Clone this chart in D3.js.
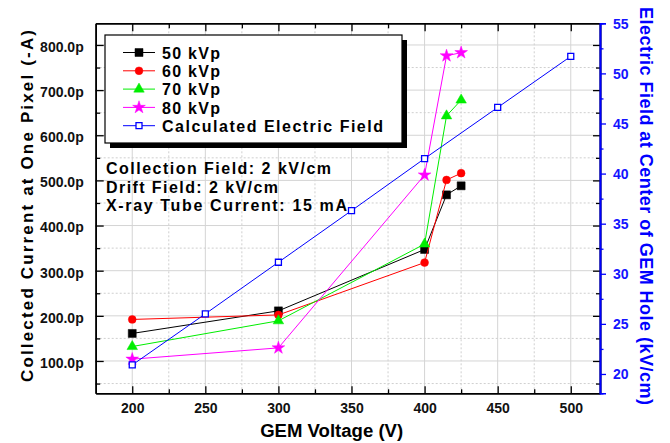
<!DOCTYPE html>
<html>
<head>
<meta charset="utf-8">
<script src="https://cdn.jsdelivr.net/npm/d3@7"></script>
<style>
  body { margin: 0; background: #fff; }
  svg { display: block; font-family: "Liberation Sans", Arial, sans-serif; font-weight: bold; }
</style>
</head>
<body>
<svg id="chart"></svg>
<script>
// Data
const voltages = [200, 300, 400, 415, 425];
const current50 = [161, 211, 347, 468, 488];
const current60 = [192, 202, 318, 501, 516];
const current70 = [132, 189, 359, 643, 678];
const current80 = [104, 129, 512, 776, 783];
const fieldVoltages = [200, 250, 300, 350, 400, 450, 500];
const fieldValues = [20.9, 26.0, 31.15, 36.3, 41.5, 46.6, 51.7];

const seriesNames = ["50 kVp", "60 kVp", "70 kVp", "80 kVp", "Calculated Electric Field"];
const notes = ["Collection Field: 2 kV/cm", "Drift Field: 2 kV/cm", "X-ray Tube Current: 15 mA"];

const xTicks = [200, 250, 300, 350, 400, 450, 500];
const yLeftTicks = [100, 200, 300, 400, 500, 600, 700, 800];
const yRightTicks = [20, 25, 30, 35, 40, 45, 50, 55];

const width = 670, height = 443;
const plotLeft = 95.7, plotRight = 600, plotTop = 23.3, plotBottom = 393.3;

const svg = d3.select("#chart").attr("width", width).attr("height", height);

// Scales
const x = d3.scaleLinear().domain([175, 520]).range([plotLeft, plotRight]);
const y = d3.scaleLinear().domain([28.4, 848]).range([plotBottom, plotTop]);
const yR = d3.scaleLinear().domain([18.07, 55]).range([plotBottom, plotTop]);

const xMinor = d3.range(225, 520, 50);
const yMinor = d3.range(50, 848, 100);
const rMinor = d3.range(22.5, 55, 5);

// Grid
const grid = svg.append("g");
xTicks.forEach(v => grid.append("line").attr("x1", x(v)).attr("x2", x(v)).attr("y1", plotTop).attr("y2", plotBottom)
    .attr("stroke", "#d4d4d4").attr("stroke-width", 1));
xMinor.forEach(v => grid.append("line").attr("x1", x(v)).attr("x2", x(v)).attr("y1", plotTop).attr("y2", plotBottom)
    .attr("stroke", "#cfcfcf").attr("stroke-dasharray", "2,2"));
yLeftTicks.forEach(v => grid.append("line").attr("x1", plotLeft).attr("x2", plotRight).attr("y1", y(v)).attr("y2", y(v))
    .attr("stroke", "#d4d4d4").attr("stroke-width", 1));
yMinor.forEach(v => grid.append("line").attr("x1", plotLeft).attr("x2", plotRight).attr("y1", y(v)).attr("y2", y(v))
    .attr("stroke", "#cfcfcf").attr("stroke-dasharray", "2,2"));

// Axes
const fmtP = d => d.toFixed(1) + "p";

const xAxisB = svg.append("g").attr("transform", `translate(0,${plotBottom})`)
    .call(d3.axisBottom(x).tickValues(xTicks).tickSizeInner(-7).tickSizeOuter(0).tickPadding(13));
svg.append("g").attr("transform", `translate(0,${plotBottom})`)
    .call(d3.axisBottom(x).tickValues(xMinor).tickSizeInner(-4).tickSizeOuter(0).tickFormat(""));
svg.append("g").attr("transform", `translate(0,${plotTop})`)
    .call(d3.axisTop(x).tickValues(xTicks).tickSizeInner(-8).tickSizeOuter(0).tickFormat(""));
svg.append("g").attr("transform", `translate(0,${plotTop})`)
    .call(d3.axisTop(x).tickValues(xMinor).tickSizeInner(-5).tickSizeOuter(0).tickFormat(""));

const yAxisL = svg.append("g").attr("transform", `translate(${plotLeft},0)`)
    .call(d3.axisLeft(y).tickValues(yLeftTicks).tickSizeInner(-8).tickSizeOuter(0).tickPadding(12).tickFormat(fmtP));
svg.append("g").attr("transform", `translate(${plotLeft},0)`)
    .call(d3.axisLeft(y).tickValues(yMinor).tickSizeInner(-4.5).tickSizeOuter(0).tickFormat(""));
// mirrored left ticks on the right side
svg.append("g").attr("transform", `translate(${plotRight},0)`)
    .call(d3.axisRight(y).tickValues(yLeftTicks).tickSizeInner(-7).tickSizeOuter(0).tickFormat(""));
svg.append("g").attr("transform", `translate(${plotRight},0)`)
    .call(d3.axisRight(y).tickValues(yMinor).tickSizeInner(-4).tickSizeOuter(0).tickFormat(""));

const yAxisR = svg.append("g").attr("class", "blue").attr("transform", `translate(${plotRight},0)`)
    .call(d3.axisRight(yR).tickValues(yRightTicks).tickSize(6).tickPadding(7));
svg.append("g").attr("class", "blue").attr("transform", `translate(${plotRight},0)`)
    .call(d3.axisRight(yR).tickValues(rMinor).tickSize(3.5).tickFormat(""));

svg.selectAll(".domain").attr("stroke-width", 1.6);
svg.selectAll(".tick line").attr("stroke-width", 1.3);
svg.selectAll(".tick text").attr("font-family", "'Liberation Sans', Arial, sans-serif")
    .attr("font-weight", "bold").attr("font-size", 14).attr("fill", "#111");
xAxisB.selectAll(".tick text").attr("dy", "0.5em");
yAxisL.selectAll(".tick text").attr("dy", "0.45em");
svg.selectAll(".blue .domain, .blue .tick line").attr("stroke", "#0000ff");
yAxisR.selectAll(".tick text").attr("fill", "#1414ff").attr("dy", "0.35em");

// Axis titles
svg.append("text").attr("x", 331.7).attr("y", 436.7).attr("text-anchor", "middle")
    .attr("font-size", 18).attr("textLength", 143).attr("lengthAdjust", "spacingAndGlyphs")
    .text("GEM Voltage (V)");
svg.append("text").attr("transform", "translate(32.5,206) rotate(-90)").attr("text-anchor", "middle")
    .attr("font-size", 17).attr("textLength", 352).attr("lengthAdjust", "spacing")
    .text("Collected Current at One Pixel (-A)");
svg.append("text").attr("transform", "translate(640,206) rotate(90)").attr("text-anchor", "middle")
    .attr("font-size", 18).attr("fill", "#0000ff").attr("textLength", 398).attr("lengthAdjust", "spacing")
    .text("Electric Field at Center of GEM Hole (kV/cm)");

// Series
const series = [
    { name: seriesNames[0], xs: voltages, ys: current50, color: "#000000", sym: d3.symbolSquare, size: 64, fill: true, scale: y },
    { name: seriesNames[1], xs: voltages, ys: current60, color: "#ff0000", sym: d3.symbolCircle, size: 48, fill: true, scale: y },
    { name: seriesNames[2], xs: voltages, ys: current70, color: "#00ee00", sym: d3.symbolTriangle, size: 48, fill: true, scale: y },
    { name: seriesNames[3], xs: voltages, ys: current80, color: "#ff00ff", sym: d3.symbolStar, size: 50, fill: true, scale: y },
    { name: seriesNames[4], xs: fieldVoltages, ys: fieldValues, color: "#0000ff", sym: d3.symbolSquare, size: 36, fill: false, scale: yR }
];

const drawMarker = (g, s, cx, cy) => {
    g.append("path").attr("transform", `translate(${cx},${cy})`)
        .attr("d", d3.symbol().type(s.sym).size(s.size)())
        .attr("fill", s.fill ? s.color : "#fff")
        .attr("stroke", s.color).attr("stroke-width", s.fill ? 0.5 : 1.3);
};

series.forEach(s => {
    const pts = s.xs.map((v, i) => [x(v), s.scale(s.ys[i])]);
    svg.append("path").datum(pts).attr("d", d3.line())
        .attr("fill", "none").attr("stroke", s.color).attr("stroke-width", 1);
    const g = svg.append("g");
    pts.forEach(p => drawMarker(g, s, p[0], p[1]));
});

// Legend
const lg = svg.append("g");
lg.append("rect").attr("x", 110).attr("y", 40).attr("width", 297).attr("height", 108).attr("fill", "#000");
lg.append("rect").attr("x", 105).attr("y", 35).attr("width", 297).attr("height", 108)
    .attr("fill", "#fff").attr("stroke", "#000").attr("stroke-width", 1.2);
const legendLen = [58, 58, 58, 58, 221];
series.forEach((s, i) => {
    const cy = 52.5 + i * 18.3;
    lg.append("line").attr("x1", 123).attr("x2", 155).attr("y1", cy).attr("y2", cy)
        .attr("stroke", s.color).attr("stroke-width", 1);
    drawMarker(lg, s, 139, cy);
    lg.append("text").attr("x", 162).attr("y", cy + 6.2).attr("font-size", 16)
        .attr("textLength", legendLen[i]).attr("lengthAdjust", "spacing").text(s.name);
});

// Notes
const noteLen = [225, 172, 241];
notes.forEach((t, i) => {
    svg.append("text").attr("x", 106).attr("y", 174 + i * 18.5).attr("font-size", 16)
        .attr("textLength", noteLen[i]).attr("lengthAdjust", "spacing").text(t);
});
</script>
</body>
</html>
